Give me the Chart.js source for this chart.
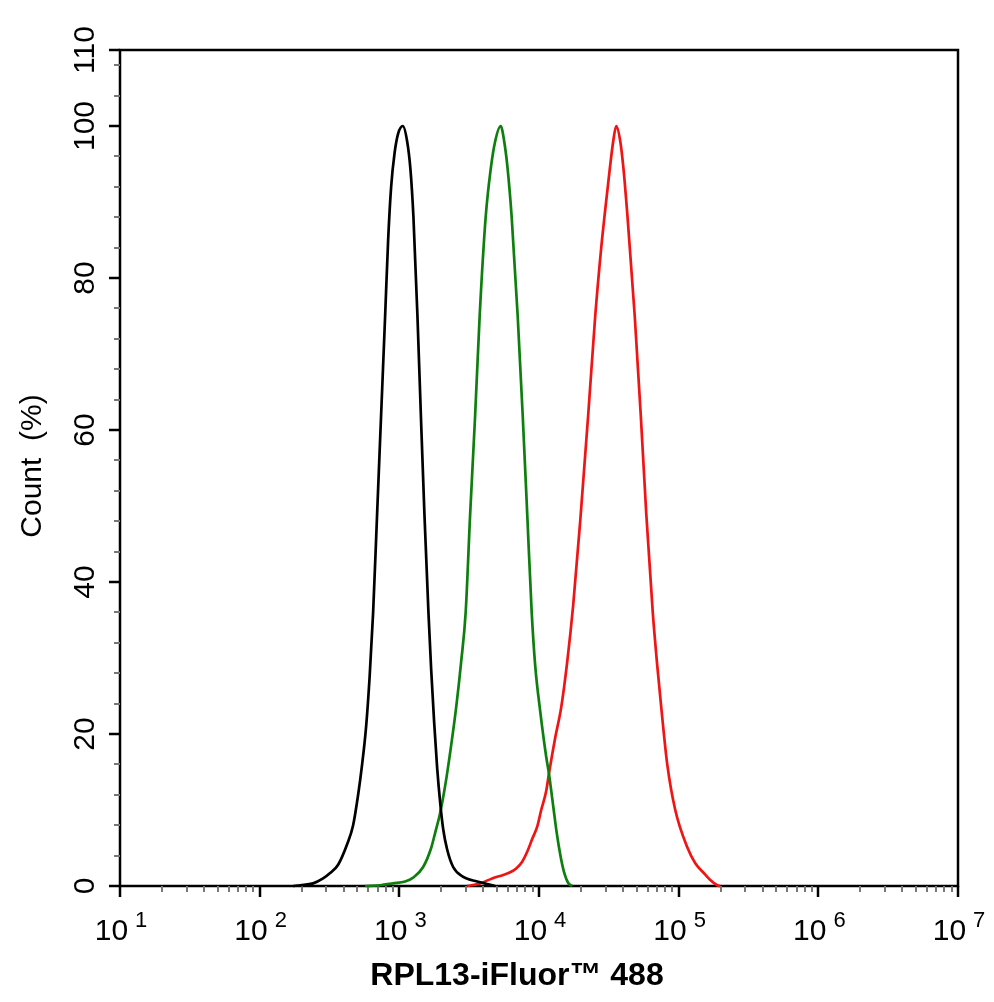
<!DOCTYPE html>
<html>
<head>
<meta charset="utf-8">
<script src="https://cdn.jsdelivr.net/npm/chart.js@4/dist/chart.umd.min.js"></script>
<style>
  html, body { margin:0; padding:0; background:#fff; }
  canvas { display:block; }
</style>
</head>
<body>
<canvas id="histChart" width="994" height="1002"></canvas>
<script>
// fluorescence values (x) and count % (y)
const blackX = [173.5,194.8,241.3,284.6,319.4,364.5,422.8,466.9,507,541.4,578.5,612.7,649.2,693.4,740.6,791.2,831.5,873.7,925.4,980.4,1059.5,1137,1201,1262,1348,1426,1512,1616,1690,1776,1866,1960,2060,2200,2429,2864,3609,4256,4857];
const blackY = [0,0.1,0.35,1.0,1.7,2.8,5.5,8,12,16,21,27.5,36,49,62,75,85,92,96.5,99,100,98,94.3,88,75,62,49,36,28.5,21.5,15.5,11,7.5,4.8,2.5,1.2,0.6,0.26,0];

const greenX = [568.9,728.7,902.8,1100,1256,1481,1690,1805,1960,2164,2350,2552,2771,2985,3215,3491,3760,4151,4508,4857,5316,5633,5968,6374,7037,7640,8233,8867,9393,10200,11261,11735,12745,13391,14302,15027,16188,17289];
const greenY = [0,0.1,0.35,0.6,1.1,2.5,5,7,9.6,14,18.5,23.5,29.5,36,49,62,75,88,94.3,98,100,98,94.3,88,75,62,49,36,29,23,17,15,10,7,3.8,2,0.4,0];

const redX = [3060,3792,4623,5541,6219,6866,7580,8233,8941,9707,10371,11261,11834,13062,14421,15922,17579,19731,22508,25269,27900,29803,32094,34000,35727,38171,40301,43053,48473,53520,58610,65240,70260,75050,82860,94540,114650,131500,155060,168410,189020,198610];
const redY = [0,0.35,1.0,1.45,1.8,2.3,3.2,4.5,6.2,7.8,10,12.5,15,19.5,23.5,29.5,37,48,62,75,84,89,94.3,98,100,98,94.3,88,75,62,49,36,29,23.5,16,10,5.2,3,1.5,0.8,0.1,0];

const xMajorTicks = [1e1,1e2,1e3,1e4,1e5,1e6,1e7];
const xExponents = ["1","2","3","4","5","6","7"];
const yMajorTicks = [0,20,40,60,80,100,110];
const yLabels = ["0","20","40","60","80","100","110"];
const yMinorStep = 4;

const xMinorTicks = [];
xMajorTicks.slice(0,-1).forEach(d => { for (let m=2; m<=9; m++) xMinorTicks.push(d*m); });
const yMinorTicks = [];
for (let v=yMinorStep; v<110; v+=yMinorStep) if (v%20!==0) yMinorTicks.push(v);

const FONT = '"Liberation Sans", Arial, sans-serif';

const frame = {
  id:"frame",
  beforeDatasetsDraw(chart) {
    const {ctx, chartArea:a, scales:{x, y}} = chart;
    ctx.save();
    ctx.strokeStyle = "#000"; ctx.lineWidth = 2.5;
    ctx.strokeRect(a.left, a.top, a.right-a.left, a.bottom-a.top);

    // x ticks
    ctx.lineWidth = 2;
    ctx.strokeStyle = "#777";
    xMinorTicks.forEach(v => { const p=Math.round(x.getPixelForValue(v)); ctx.beginPath(); ctx.moveTo(p,a.bottom); ctx.lineTo(p,a.bottom+6); ctx.stroke(); });
    ctx.strokeStyle = "#000"; ctx.lineWidth = 2.5;
    xMajorTicks.forEach(v => { const p=Math.round(x.getPixelForValue(v)); ctx.beginPath(); ctx.moveTo(p,a.bottom); ctx.lineTo(p,a.bottom+11); ctx.stroke(); });

    // y ticks
    ctx.strokeStyle = "#777"; ctx.lineWidth = 2;
    yMinorTicks.forEach(v => { const p=Math.round(y.getPixelForValue(v)); ctx.beginPath(); ctx.moveTo(a.left-6,p); ctx.lineTo(a.left,p); ctx.stroke(); });
    ctx.strokeStyle = "#000"; ctx.lineWidth = 2.5;
    yMajorTicks.forEach(v => { const p=Math.round(y.getPixelForValue(v)); ctx.beginPath(); ctx.moveTo(a.left-11,p); ctx.lineTo(a.left,p); ctx.stroke(); });

    // x tick labels: 10 with superscript exponent
    ctx.fillStyle = "#000"; ctx.textBaseline = "alphabetic"; ctx.textAlign = "left";
    xMajorTicks.forEach((v,i) => {
      const p = x.getPixelForValue(v);
      ctx.font = "30px " + FONT; const w10 = ctx.measureText("10").width;
      ctx.font = "22px " + FONT; const ws = ctx.measureText(xExponents[i]).width;
      const gap = 7, start = p - (w10+gap+ws)/2 + 1;
      ctx.font = "30px " + FONT; ctx.fillText("10", start, 940);
      ctx.font = "22px " + FONT; ctx.fillText(xExponents[i], start+w10+gap, 927);
    });

    // y tick labels, rotated
    ctx.font = "30px " + FONT; ctx.textAlign = "center";
    yMajorTicks.forEach((v,i) => {
      ctx.save(); ctx.translate(94, y.getPixelForValue(v)); ctx.rotate(-Math.PI/2);
      ctx.fillText(yLabels[i], 0, 0); ctx.restore();
    });

    // titles
    ctx.save(); ctx.translate(41, 466); ctx.rotate(-Math.PI/2);
    ctx.font = "30px " + FONT; ctx.fillText("Count  (%)", 0, 0); ctx.restore();
    ctx.font = "bold 32px " + FONT;
    ctx.fillText("RPL13-iFluor\u2122 488", 517, 985);
    ctx.restore();
  }
};

const series = (xs, ys, color) => ({
  data: xs.map((v,i) => ({x:v, y:ys[i]})),
  borderColor: color, borderWidth: 2.7, pointRadius: 0, fill: false,
  cubicInterpolationMode: "monotone", clip: false,
});

new Chart(document.getElementById("histChart"), {
  type: "line",
  data: { datasets: [
    series(blackX, blackY, "#000000"),
    series(greenX, greenY, "#0e7f0e"),
    series(redX, redY, "#f01414"),
  ]},
  options: {
    responsive: false, animation: false, devicePixelRatio: 1,
    layout: { padding: { left:120, top:50, right:36, bottom:116 } },
    plugins: { legend:{display:false}, tooltip:{enabled:false} },
    scales: {
      x: { type:"logarithmic", min:10, max:1e7, display:false },
      y: { type:"linear", min:0, max:110, display:false },
    },
  },
  plugins: [frame],
});
</script>
</body>
</html>
